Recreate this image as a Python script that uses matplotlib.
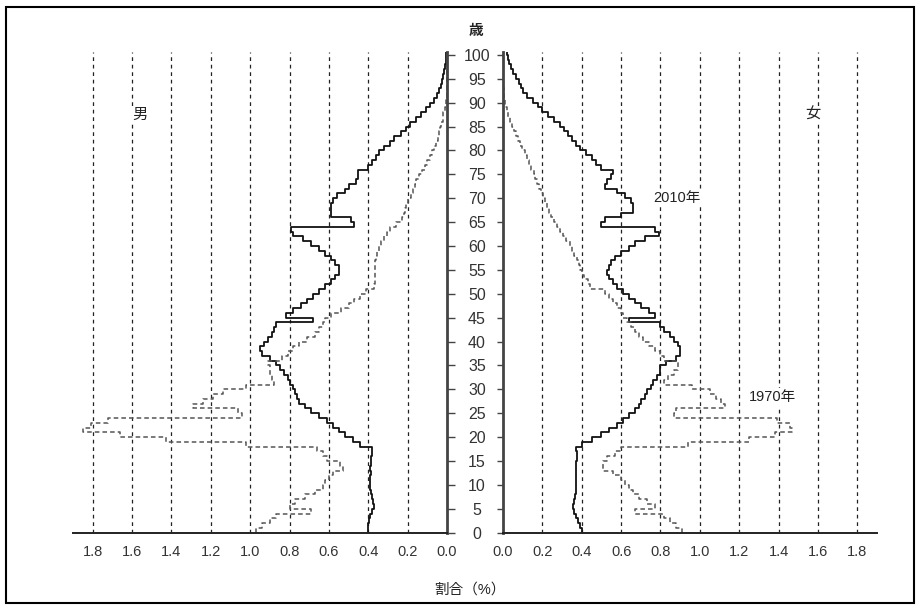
import numpy as np
import matplotlib.pyplot as plt
from matplotlib.patches import Rectangle

plt.rcParams['font.family'] = ['Liberation Sans', 'Noto Sans CJK JP']

ages = np.arange(0, 101)

# 男 2010年 (%), 0歳〜100歳
male_2010 = [
    0.40, 0.40, 0.395, 0.39, 0.38, 0.37, 0.375, 0.38, 0.385, 0.39,
    0.39, 0.39, 0.385, 0.39, 0.385, 0.385, 0.38, 0.38, 0.44, 0.48,
    0.52, 0.55, 0.58, 0.61, 0.65, 0.69, 0.72, 0.75, 0.76, 0.77,
    0.78, 0.80, 0.81, 0.83, 0.85, 0.87, 0.90, 0.94, 0.95, 0.93,
    0.91, 0.89, 0.88, 0.87, 0.68, 0.82, 0.78, 0.74, 0.71, 0.68,
    0.65, 0.62, 0.59, 0.57, 0.55, 0.55, 0.57, 0.59, 0.62, 0.65,
    0.69, 0.73, 0.78, 0.79, 0.47, 0.49, 0.59, 0.59, 0.59, 0.58,
    0.56, 0.52, 0.50, 0.46, 0.45, 0.45, 0.40, 0.38, 0.36, 0.345,
    0.32, 0.29, 0.27, 0.235, 0.21, 0.19, 0.16, 0.13, 0.105, 0.085,
    0.065, 0.05, 0.04, 0.032, 0.025, 0.018, 0.013, 0.01, 0.007, 0.005,
    0.004,
]

# 男 1970年 (%)
male_1970 = [
    0.97, 0.94, 0.90, 0.87, 0.69, 0.80, 0.77, 0.72, 0.67, 0.63,
    0.62, 0.60, 0.58, 0.53, 0.545, 0.61, 0.63, 0.66, 1.02, 1.43,
    1.66, 1.85, 1.81, 1.72, 1.04, 1.06, 1.29, 1.24, 1.19, 1.14,
    1.02, 0.88, 0.89, 0.90, 0.90, 0.91, 0.84, 0.81, 0.78, 0.75,
    0.71, 0.67, 0.65, 0.63, 0.62, 0.59, 0.54, 0.50, 0.47, 0.44,
    0.41, 0.37, 0.365, 0.365, 0.365, 0.365, 0.365, 0.36, 0.355, 0.345,
    0.335, 0.32, 0.305, 0.29, 0.26, 0.23, 0.22, 0.215, 0.21, 0.20,
    0.185, 0.175, 0.165, 0.155, 0.14, 0.125, 0.11, 0.10, 0.085, 0.075,
    0.065, 0.055, 0.045, 0.04, 0.035, 0.028, 0.022, 0.018, 0.012, 0.007,
    0.004, 0.002, 0.0, 0.0, 0.0, 0.0, 0.0, 0.0, 0.0, 0.0,
    0.0,
]

# 女 2010年 (%)
female_2010 = [
    0.40, 0.39, 0.38, 0.37, 0.36, 0.355, 0.36, 0.365, 0.37, 0.37,
    0.37, 0.37, 0.37, 0.37, 0.37, 0.375, 0.375, 0.37, 0.40, 0.45,
    0.50, 0.54, 0.58, 0.61, 0.64, 0.67, 0.69, 0.70, 0.72, 0.73,
    0.75, 0.76, 0.78, 0.80, 0.80, 0.83, 0.88, 0.90, 0.90, 0.89,
    0.87, 0.85, 0.82, 0.80, 0.64, 0.77, 0.74, 0.70, 0.67, 0.64,
    0.61, 0.58, 0.56, 0.54, 0.53, 0.54, 0.55, 0.57, 0.60, 0.64,
    0.67, 0.72, 0.79, 0.77, 0.50, 0.52, 0.60, 0.66, 0.66, 0.65,
    0.62, 0.58, 0.52, 0.53, 0.55, 0.56, 0.50, 0.47, 0.45, 0.42,
    0.39, 0.37, 0.35, 0.33, 0.31, 0.29, 0.26, 0.23, 0.20, 0.18,
    0.15, 0.12, 0.10, 0.09, 0.08, 0.065, 0.05, 0.04, 0.03, 0.025,
    0.02,
]

# 女 1970年 (%)
female_1970 = [
    0.91, 0.88, 0.85, 0.82, 0.67, 0.77, 0.73, 0.69, 0.66, 0.64,
    0.62, 0.60, 0.56, 0.51, 0.51, 0.53, 0.57, 0.60, 0.94, 1.25,
    1.38, 1.47, 1.46, 1.39, 0.87, 0.88, 1.13, 1.11, 1.08, 1.05,
    0.96, 0.82, 0.84, 0.87, 0.89, 0.89, 0.82, 0.80, 0.77, 0.74,
    0.71, 0.69, 0.67, 0.65, 0.63, 0.61, 0.60, 0.58, 0.56, 0.54,
    0.52, 0.44, 0.43, 0.41, 0.40, 0.39, 0.385, 0.375, 0.36, 0.35,
    0.34, 0.32, 0.305, 0.29, 0.275, 0.26, 0.245, 0.235, 0.225, 0.215,
    0.205, 0.195, 0.185, 0.175, 0.165, 0.155, 0.14, 0.13, 0.12, 0.11,
    0.095, 0.085, 0.075, 0.065, 0.055, 0.045, 0.035, 0.027, 0.02, 0.012,
    0.008, 0.005, 0.003, 0.0, 0.0, 0.0, 0.0, 0.0, 0.0, 0.0,
    0.0,
]

grid_x = [0.2, 0.4, 0.6, 0.8, 1.0, 1.2, 1.4, 1.6, 1.8]
xtick_vals = [0.0, 0.2, 0.4, 0.6, 0.8, 1.0, 1.2, 1.4, 1.6, 1.8]
ytick_vals = list(range(0, 101, 5))


def steps(vals):
    # each age covers [a, a+1] on the vertical axis
    v = np.asarray(vals)
    ys = np.column_stack([ages, ages + 1]).ravel()
    xs = np.repeat(v, 2)
    return xs, ys


W, H = 922, 609
fig = plt.figure(figsize=(W / 100, H / 100), dpi=100)
bottom = 1 - 532.7 / H
height = (532.7 - 52) / H
axL = fig.add_axes([73 / W, bottom, (447 - 73) / W, height])
axR = fig.add_axes([503 / W, bottom, (877 - 503) / W, height])

for ax in (axL, axR):
    ax.set_ylim(0, 100.6)
    for g in grid_x:
        ax.axvline(g, color='#222222', lw=0.9, ls=(0, (3, 3)), zorder=0)
    ax.spines['top'].set_visible(False)
    ax.spines['bottom'].set_color('#222222')
    ax.spines['bottom'].set_linewidth(1.4)
    ax.set_xticks(xtick_vals)
    ax.set_xticklabels(['%.1f' % t for t in xtick_vals])
    ax.tick_params(axis='x', length=0, pad=9, labelsize=10.5, labelcolor='#333333')
    ax.set_yticks(ytick_vals)

axL.set_xlim(1.9, 0)
axR.set_xlim(0, 1.9)

axL.spines['left'].set_visible(False)
axL.spines['right'].set_color('#444444')
axL.spines['right'].set_linewidth(2)
axL.yaxis.tick_right()
axL.tick_params(axis='y', direction='out', length=6, width=1, color='#444444',
                labelright=False)

axR.spines['right'].set_visible(False)
axR.spines['left'].set_color('#444444')
axR.spines['left'].set_linewidth(2)
axR.tick_params(axis='y', direction='out', length=4.5, width=1, color='#444444',
                pad=14.2, labelsize=11.5, labelcolor='#333333')
for lab in axR.get_yticklabels():
    lab.set_ha('center')

x, y = steps(male_2010)
axL.plot(x, y, color='#111111', lw=1.3)
x, y = steps(male_1970)
axL.plot(x, y, color='#555555', lw=1.1, ls=(0, (3, 2)))
x, y = steps(female_2010)
axR.plot(x, y, color='#111111', lw=1.3)
x, y = steps(female_1970)
axR.plot(x, y, color='#555555', lw=1.1, ls=(0, (3, 2)))

box = dict(facecolor='white', edgecolor='none', pad=1.5)
axL.text(1.56, 87.4, '男', ha='center', va='center', fontsize=11, color='#222222', bbox=box)
axR.text(1.576, 87.4, '女', ha='center', va='center', fontsize=11, color='#222222', bbox=box)
axR.text(0.885, 70, '2010年', ha='center', va='center', fontsize=10.5, color='#222222', bbox=box)
axR.text(1.37, 28.4, '1970年', ha='center', va='center', fontsize=10.5, color='#222222', bbox=box)

fig.text(476 / W, 1 - 31 / H, '歳', ha='center', va='center', fontsize=10.5,
         color='#222222', fontweight='bold')
fig.text(470 / W, 1 - 590 / H, '割合（%）', ha='center', va='center', fontsize=10.5, color='#222222')

fig.patches.append(Rectangle((6 / W, 6 / H), (914 - 6) / W, (602 - 6) / H,
                             transform=fig.transFigure, fill=False,
                             edgecolor='black', lw=1.5))

fig.savefig('out.png', dpi=100)
